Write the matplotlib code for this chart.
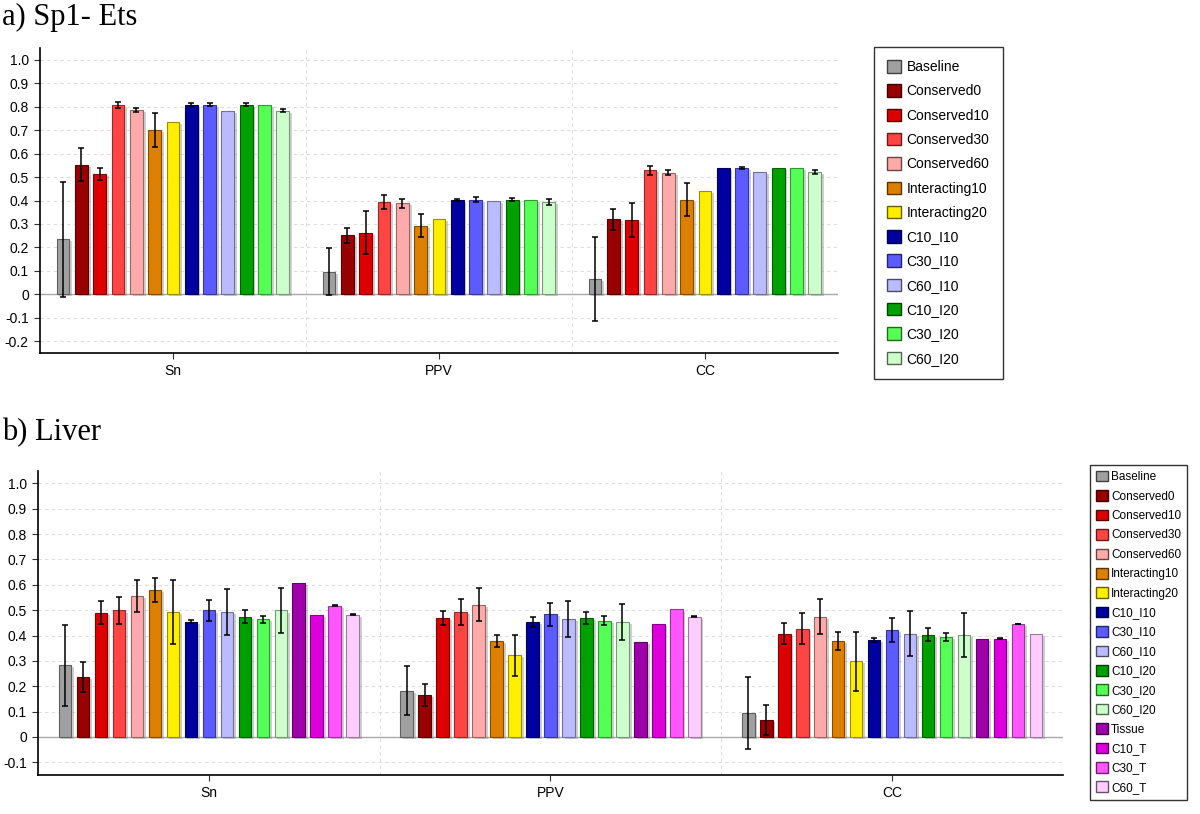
import matplotlib
matplotlib.use("Agg")
import matplotlib.pyplot as plt
import matplotlib.patheffects as pe
from matplotlib.patches import Patch
import numpy as np

plt.rcParams['font.family'] = ['Liberation Sans', 'DejaVu Sans']

metrics = ["Sn", "PPV", "CC"]

# panel a) Sp1- Ets
labels_a = ["Baseline", "Conserved0", "Conserved10", "Conserved30", "Conserved60",
            "Interacting10", "Interacting20", "C10_I10", "C30_I10", "C60_I10",
            "C10_I20", "C30_I20", "C60_I20"]
sn_a = [0.235, 0.553, 0.512, 0.808, 0.787, 0.700, 0.735, 0.808, 0.808, 0.783, 0.808, 0.808, 0.783]
sn_a_err = [0.245, 0.07, 0.026, 0.013, 0.008, 0.071, 0, 0.006, 0.007, 0, 0.006, 0, 0.005]
ppv_a = [0.097, 0.252, 0.262, 0.393, 0.388, 0.293, 0.320, 0.404, 0.404, 0.398, 0.404, 0.404, 0.393]
ppv_a_err = [0.1, 0.032, 0.092, 0.03, 0.019, 0.05, 0, 0.004, 0.01, 0, 0.005, 0, 0.013]
cc_a = [0.065, 0.320, 0.316, 0.529, 0.519, 0.404, 0.440, 0.539, 0.539, 0.523, 0.539, 0.539, 0.522]
cc_a_err = [0.178, 0.046, 0.073, 0.02, 0.012, 0.07, 0, 0, 0.005, 0, 0, 0, 0.007]

# panel b) Liver
labels_b = labels_a + ["Tissue", "C10_T", "C30_T", "C60_T"]
sn_b = [0.283, 0.236, 0.490, 0.499, 0.556, 0.580, 0.493, 0.455, 0.499, 0.493, 0.475, 0.465, 0.499,
        0.609, 0.483, 0.517, 0.483]
sn_b_err = [0.159, 0.06, 0.046, 0.053, 0.063, 0.046, 0.125, 0.005, 0.041, 0.089, 0.027, 0.014, 0.089,
            0, 0, 0.002, 0.001]
ppv_b = [0.183, 0.164, 0.470, 0.493, 0.522, 0.378, 0.322, 0.455, 0.484, 0.465, 0.470, 0.459, 0.454,
         0.373, 0.445, 0.503, 0.475]
ppv_b_err = [0.096, 0.043, 0.028, 0.052, 0.066, 0.025, 0.082, 0.02, 0.046, 0.071, 0.024, 0.018, 0.07,
             0, 0, 0, 0.001]
cc_b = [0.096, 0.067, 0.407, 0.427, 0.475, 0.378, 0.298, 0.384, 0.421, 0.407, 0.403, 0.393, 0.402,
        0.387, 0.387, 0.445, 0.407]
cc_b_err = [0.142, 0.061, 0.041, 0.06, 0.07, 0.036, 0.117, 0.008, 0.048, 0.088, 0.026, 0.016, 0.088,
            0, 0.002, 0.001, 0]

colors = ["#A0A0A0", "#990000", "#DD0000", "#FF4444", "#FFAAAA", "#DD7F00", "#FFEE00",
          "#0000A0", "#5B5BFF", "#BBBBFF", "#00A000", "#55FF55", "#CCFFCC",
          "#A000AA", "#DD00DD", "#FF55FF", "#FFCCFF"]


def darker(c, f=0.6):
    r, g, b = matplotlib.colors.to_rgb(c)
    return (r * f, g * f, b * f)


def panel(ax, labels, vals, errs, ylo):
    n = len(labels)
    step = 0.895 / n
    w = step * 0.7
    gx = np.arange(len(metrics))
    shadow = [pe.SimplePatchShadow(offset=(2, -1.5), shadow_rgbFace="#777777", alpha=0.35), pe.Normal()]
    for i in range(n):
        x = gx + (i - (n - 1) / 2) * step
        v = [vals[m][i] for m in range(len(metrics))]
        e = [errs[m][i] for m in range(len(metrics))]
        bars = ax.bar(x, v, w, color=colors[i], edgecolor=darker(colors[i]), linewidth=0.8, zorder=3)
        for b in bars:
            b.set_path_effects(shadow)
        for xx, vv, ee in zip(x, v, e):
            if ee > 0:
                ax.errorbar(xx, vv, yerr=ee, fmt="none", ecolor="black", elinewidth=1.1,
                            capsize=2.5, capthick=1.1, zorder=4)
    ticks = np.round(np.arange(ylo + 0.05, 1.01, 0.1), 1)
    ax.set_xlim(-0.5, len(metrics) - 0.5)
    ax.set_ylim(ylo, 1.05)
    ax.set_yticks(ticks)
    ax.set_yticklabels(["0" if abs(t) < 1e-9 else "%.1f" % t for t in ticks])
    ax.set_xticks(gx)
    ax.set_xticklabels(metrics)
    ax.tick_params(axis="both", labelsize=10, length=4.5, width=0.8, color="#333333")
    ax.yaxis.grid(True, linestyle=(0, (3, 3)), color="#dddddd", linewidth=0.8, zorder=0)
    for s in [0.5, 1.5, 2.5]:
        ax.axvline(s, linestyle=(0, (3, 3)), color="#dddddd", linewidth=0.8, zorder=0)
    ax.axhline(0, color="#aaaaaa", linewidth=1.0, zorder=2)
    ax.spines["top"].set_visible(False)
    ax.spines["right"].set_visible(False)
    ax.spines["left"].set_linewidth(1.2)
    ax.spines["bottom"].set_linewidth(1.2)
    ax.set_axisbelow(True)


fig = plt.figure(figsize=(12.0, 8.14), dpi=100)

ax1 = fig.add_axes([0.0333, 0.5663, 0.665, 0.3747])
panel(ax1, labels_a, [sn_a, ppv_a, cc_a], [sn_a_err, ppv_a_err, cc_a_err], -0.25)
ax2 = fig.add_axes([0.0317, 0.0479, 0.8541, 0.3738])
panel(ax2, labels_b, [sn_b, ppv_b, cc_b], [sn_b_err, ppv_b_err, cc_b_err], -0.15)

h_a = [Patch(facecolor=colors[i], edgecolor=darker(colors[i], 0.4), label=labels_a[i]) for i in range(len(labels_a))]
leg1 = fig.legend(handles=h_a, loc="upper left", bbox_to_anchor=(874 / 1200, 1 - 47 / 814),
                  fontsize=10, frameon=True, fancybox=False, edgecolor="black",
                  handlelength=1.0, handleheight=1.0, handletextpad=0.4, labelspacing=0.74,
                  borderpad=0.95, borderaxespad=0)
leg1.get_frame().set_linewidth(1.0)

h_b = [Patch(facecolor=colors[i], edgecolor=darker(colors[i], 0.4), label=labels_b[i]) for i in range(len(labels_b))]
leg2 = fig.legend(handles=h_b, loc="upper left", bbox_to_anchor=(1090 / 1200, 1 - 465 / 814),
                  fontsize=8.5, frameon=True, fancybox=False, edgecolor="black",
                  handlelength=1.0, handleheight=1.0, handletextpad=0.3, labelspacing=0.6,
                  borderpad=0.5, borderaxespad=0)
leg2.get_frame().set_linewidth(1.0)

fig.text(0.002, 1 - 17 / 814, "a) Sp1- Ets", family="Liberation Serif", fontsize=22, va="center", ha="left")
fig.text(0.002, 1 - 433 / 814, "b) Liver", family="Liberation Serif", fontsize=22, va="center", ha="left")

fig.savefig("out.png", dpi=100)
